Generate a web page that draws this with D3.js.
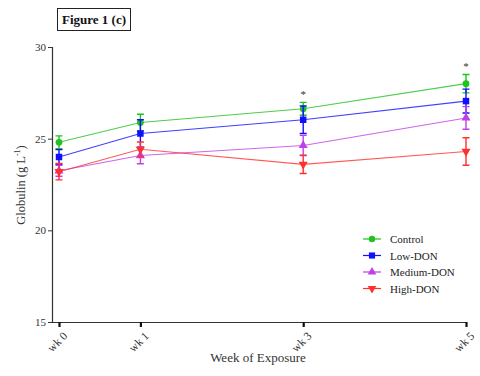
<!DOCTYPE html>
<html>
<head>
<meta charset="utf-8">
<script src="https://cdn.jsdelivr.net/npm/d3@7"></script>
<style>
  body { margin: 0; background: #fff; }
  svg { display: block; font-family: "Liberation Serif", "DejaVu Serif", serif; }
</style>
</head>
<body>
<svg width="480" height="376"></svg>
<script>
// values (mean and error half-width)
const weeks = [0, 1, 3, 5];
const weekLabels = ['wk 0', 'wk 1', 'wk 3', 'wk 5'];
const groups = ['Control', 'Low-DON', 'Medium-DON', 'High-DON'];
const control = [24.8, 25.88, 26.63, 28.0];
const controlErr = [0.35, 0.45, 0.35, 0.5];
const lowDon = [24.0, 25.28, 26.03, 27.05];
const lowDonErr = [0.4, 0.75, 0.75, 0.65];
const mediumDon = [23.25, 24.08, 24.63, 26.13];
const mediumDonErr = [0.3, 0.45, 0.55, 0.62];
const highDon = [23.2, 24.42, 23.6, 24.3];
const highDonErr = [0.45, 0.4, 0.5, 0.75];
const yTicks = [15, 20, 25, 30];
const starWeeks = [3, 5];

const colors = ['#1fc21f', '#1010ff', '#c040e8', '#ff3030'];
const symbols = [d3.symbolCircle, d3.symbolSquare, d3.symbolTriangle, d3.symbolTriangle];

const series = [
  { name: groups[0], values: control, err: controlErr },
  { name: groups[1], values: lowDon, err: lowDonErr },
  { name: groups[2], values: mediumDon, err: mediumDonErr },
  { name: groups[3], values: highDon, err: highDonErr },
];

const xScale = d3.scaleLinear().domain([0, 5]).range([59, 466]);
const yScale = d3.scaleLinear().domain([15, 30]).range([322, 47]);

const svg = d3.select('svg');

// title box
svg.append('rect')
  .attr('x', 57.5).attr('y', 8.5).attr('width', 73).attr('height', 22)
  .attr('fill', 'none').attr('stroke', '#222').attr('stroke-width', 1);
svg.append('text')
  .attr('x', 94).attr('y', 24).attr('text-anchor', 'middle')
  .attr('font-size', 13).attr('font-weight', 'bold').attr('fill', '#111')
  .text('Figure 1 (c)');

// y axis
const yAxis = svg.append('g')
  .attr('transform', 'translate(52,0)')
  .call(d3.axisLeft(yScale).tickValues(yTicks).tickSize(4).tickPadding(2));
yAxis.select('.domain').attr('stroke', '#333').attr('stroke-width', 1.2);
yAxis.selectAll('.tick line').attr('stroke', '#333');
yAxis.selectAll('.tick text')
  .attr('font-family', '"Liberation Serif", serif').attr('font-size', 11).attr('fill', '#333');

// x axis line + ticks
svg.append('line')
  .attr('x1', 52).attr('x2', 467).attr('y1', 322.5).attr('y2', 322.5)
  .attr('stroke', '#333').attr('stroke-width', 1.2);
const xAxis = svg.append('g')
  .attr('transform', 'translate(0,322)')
  .call(d3.axisBottom(xScale).tickValues(weeks).tickSize(5)
    .tickFormat((d, i) => weekLabels[i]));
xAxis.select('.domain').remove();
xAxis.selectAll('.tick line').attr('stroke', '#111').attr('stroke-width', 2.2);
xAxis.selectAll('.tick text')
  .attr('font-family', '"Liberation Serif", serif').attr('font-size', 11.5).attr('fill', '#333')
  .attr('text-anchor', 'end')
  .attr('dy', 0)
  .attr('transform', 'translate(3,9) rotate(-45)');

// axis titles
svg.append('text')
  .attr('x', 258).attr('y', 362).attr('text-anchor', 'middle')
  .attr('font-size', 13).attr('fill', '#333')
  .text('Week of Exposure');

const yTitle = svg.append('text')
  .attr('transform', 'translate(25,185) rotate(-90)')
  .attr('text-anchor', 'middle').attr('font-size', 12.5).attr('fill', '#333');
yTitle.append('tspan').text('Globulin (g L');
yTitle.append('tspan').attr('font-size', 8).attr('dy', -5).text('-1');
yTitle.append('tspan').attr('dy', 5).text(')');

// lines
const line = d3.line().x((d, i) => xScale(weeks[i])).y(d => yScale(d));

series.forEach((s, k) => {
  const g = svg.append('g');
  g.append('path')
    .attr('d', line(s.values))
    .attr('fill', 'none').attr('stroke', colors[k]).attr('stroke-width', 1.1)
    .attr('stroke-opacity', 0.8);

  // error bars
  g.selectAll('.eb').data(s.values).enter().append('path')
    .attr('d', (d, i) => {
      const x = xScale(weeks[i]);
      const y1 = yScale(d + s.err[i]);
      const y2 = yScale(d - s.err[i]);
      return `M${x - 3.5},${y1}H${x + 3.5}M${x},${y1}V${y2}M${x - 3.5},${y2}H${x + 3.5}`;
    })
    .attr('fill', 'none').attr('stroke', colors[k]).attr('stroke-width', 1.4);

  // markers
  g.selectAll('.pt').data(s.values).enter().append('path')
    .attr('d', d3.symbol().type(symbols[k]).size(k === 1 ? 42 : 36))
    .attr('transform', (d, i) =>
      `translate(${xScale(weeks[i])},${yScale(d)})` + (k === 3 ? ' rotate(180)' : ''))
    .attr('fill', colors[k]);
});

// significance asterisks
svg.selectAll('.star').data(starWeeks).enter().append('text')
  .attr('x', d => xScale(d))
  .attr('y', d => yScale(control[weeks.indexOf(d)] + controlErr[weeks.indexOf(d)]) - 2)
  .attr('dy', '-0.2em')
  .attr('text-anchor', 'middle').attr('font-size', 11).attr('fill', '#333')
  .text('*');

// legend
const legend = svg.append('g').attr('transform', 'translate(363,239)');
groups.forEach((name, k) => {
  const row = legend.append('g').attr('transform', `translate(0,${k * 16.5})`);
  row.append('line').attr('x1', 0).attr('x2', 18).attr('y1', 0).attr('y2', 0)
    .attr('stroke', colors[k]).attr('stroke-width', 1.2);
  row.append('path')
    .attr('d', d3.symbol().type(symbols[k]).size(k === 1 ? 38 : 32))
    .attr('transform', 'translate(9,0)' + (k === 3 ? ' rotate(180)' : ''))
    .attr('fill', colors[k]);
  row.append('text').attr('x', 27).attr('y', 4)
    .attr('font-size', 11).attr('fill', '#222').text(name);
});
</script>
</body>
</html>
